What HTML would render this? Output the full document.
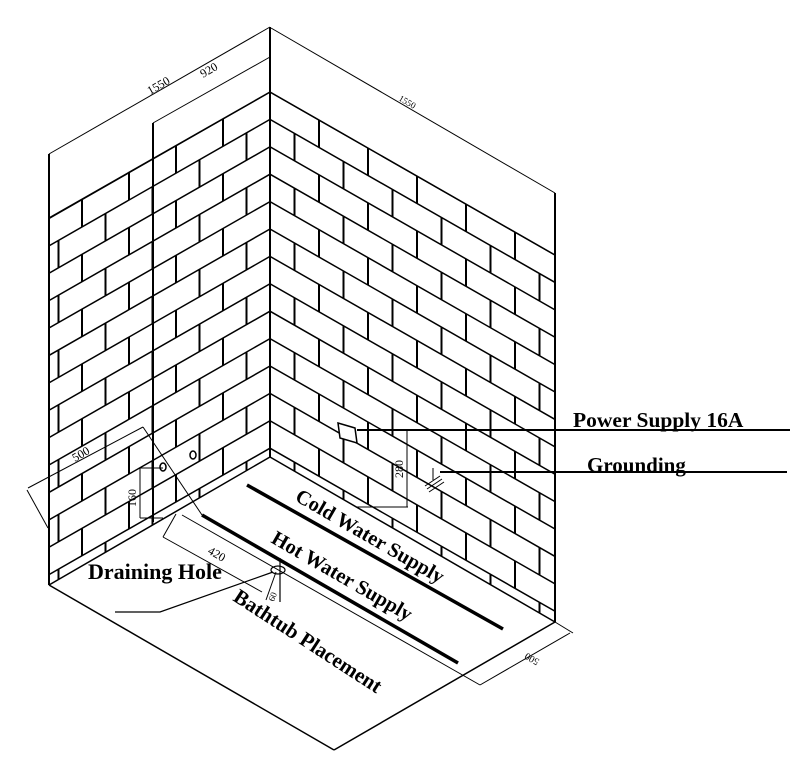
<!DOCTYPE html>
<html><head><meta charset="utf-8"><style>
html,body{margin:0;padding:0;background:#fff;}
svg{display:block;}
text{font-family:"Liberation Serif",serif;fill:#000;}
</style></head><body>
<svg id="s" width="799" height="781" viewBox="0 0 799 781" xmlns="http://www.w3.org/2000/svg">
<defs>
<clipPath id="cl"><polygon points="270,92 49,218 49,585 270,457"/></clipPath>
<clipPath id="cr"><polygon points="270,92 555,255 555,622 270,457"/></clipPath>
</defs>
<g id="bl" clip-path="url(#cl)" stroke="#000" fill="none"></g>
<g id="br" clip-path="url(#cr)" stroke="#000" fill="none"></g>
<g stroke="#000" fill="none" stroke-width="1.5">
<line x1="270" y1="27" x2="270" y2="457" stroke-width="2"/>
<line x1="49" y1="154" x2="49" y2="585" stroke-width="2"/>
<line x1="555" y1="193" x2="555" y2="622" stroke-width="2"/>
<line x1="270" y1="92" x2="49" y2="218"/>
<line x1="270" y1="92" x2="555" y2="255"/>
<line x1="270" y1="457" x2="49" y2="585"/>
<line x1="270" y1="457" x2="555" y2="622"/>
<line x1="49" y1="585" x2="334" y2="750"/>
<line x1="334" y1="750" x2="555" y2="622"/>
<line x1="49" y1="154" x2="270" y2="27" stroke-width="1"/>
<line x1="153" y1="123" x2="270" y2="57" stroke-width="1"/>
<line x1="153" y1="123" x2="153" y2="522" stroke-width="2"/>
<line x1="271" y1="28" x2="555" y2="193" stroke-width="1"/>
<line x1="28" y1="488" x2="143" y2="427" stroke-width="1"/>
<line x1="27" y1="490" x2="48" y2="528" stroke-width="1"/>
<line x1="143" y1="427" x2="202" y2="515" stroke-width="1"/>
<line x1="140" y1="468" x2="140" y2="518" stroke-width="1"/>
<line x1="140" y1="468" x2="163" y2="468" stroke-width="1"/>
<line x1="140" y1="518" x2="163" y2="518" stroke-width="1"/>
<line x1="202" y1="515" x2="458" y2="663" stroke-width="3.5"/>
<line x1="247" y1="485" x2="503" y2="629" stroke-width="3.5"/>
<line x1="182" y1="515" x2="480" y2="685" stroke-width="1"/>
<line x1="163" y1="537" x2="262" y2="592" stroke-width="1"/>
<line x1="163" y1="537" x2="176" y2="514" stroke-width="1"/>
<line x1="480" y1="685" x2="570" y2="633" stroke-width="1"/>
<line x1="555" y1="622" x2="573" y2="633" stroke-width="1"/>
<ellipse cx="278" cy="570" rx="7" ry="4" stroke-width="1.2"/>
<polyline points="273,572 160,612 115,612" stroke-width="1.2"/>
<line x1="276" y1="572" x2="266" y2="600" stroke-width="1"/>
<line x1="280" y1="558" x2="280" y2="602" stroke-width="1.2"/>
<ellipse cx="163" cy="467" rx="3" ry="4"/>
<ellipse cx="193" cy="455" rx="3" ry="4"/>
<polygon points="338,423 355,428 357,443 340,438" fill="#fff"/>
<line x1="357" y1="430" x2="790" y2="430" stroke-width="2"/>
<line x1="407" y1="430" x2="407" y2="507" stroke-width="1"/>
<line x1="357" y1="507" x2="408" y2="507" stroke-width="1"/>
<line x1="440" y1="472" x2="787" y2="472" stroke-width="2"/>
<line x1="433" y1="468" x2="433" y2="480" stroke-width="1"/>
<line x1="425" y1="486" x2="440" y2="476" stroke-width="1"/>
<line x1="427" y1="489" x2="442" y2="479" stroke-width="1"/>
<line x1="429" y1="492" x2="444" y2="482" stroke-width="1"/>
</g>
<g font-size="12">
<text transform="translate(150,95) rotate(-30)">1550</text>
<text transform="translate(203,78) rotate(-30)">920</text>
<text transform="translate(398,100) rotate(30)" font-size="9">1550</text>
<text transform="translate(75,462) rotate(-30)">500</text>
<text transform="translate(207,553) rotate(30)">420</text>
<text transform="translate(136,507) rotate(-90)">160</text>
<text transform="translate(403,478) rotate(-90)">280</text>
<text transform="translate(274,602) rotate(-70)" font-size="9">60</text>
<text transform="translate(540,660) rotate(-150)" font-size="10">500</text>
</g>
<g font-weight="bold">
<text x="573" y="427" font-size="21.5">Power Supply 16A</text>
<text x="587" y="472" font-size="21">Grounding</text>
<text x="88" y="579" font-size="22">Draining Hole</text>
<text transform="translate(294,500) rotate(30)" font-size="20.5">Cold Water Supply</text>
<text transform="translate(270,542) rotate(30)" font-size="20.5">Hot Water Supply</text>
<text transform="translate(232,600) rotate(33)" font-size="21">Bathtub Placement</text>
</g>
</svg>
<script>
(function(){
var NS="http://www.w3.org/2000/svg";
function ln(g,x1,y1,x2,y2,w){var l=document.createElementNS(NS,"line");l.setAttribute("x1",x1);l.setAttribute("y1",y1);l.setAttribute("x2",x2);l.setAttribute("y2",y2);l.setAttribute("stroke-width",w);g.appendChild(l);}
var bl=document.getElementById("bl"),br=document.getElementById("br");
var s=0.572,h=27.4;
for(var k=0;k<14;k++){
 var y0=92+h*k;
 ln(bl,270,y0,49,y0+s*221,1.5);
 ln(br,270,y0,555,y0+s*285,1.5);
 var off=(k%2==0)?0:23.5;
 for(var x=270-off-(k%2==0?47:0);x>49;x-=47){var yy=y0+s*(270-x);ln(bl,x,yy,x,yy+h,2);}
 var offr=(k%2==0)?49:24.5;
 for(var x2=270+offr;x2<555;x2+=49){var y2=y0+s*(x2-270);ln(br,x2,y2,x2,y2+h,2);}
}
})();
</script>
</body></html>
